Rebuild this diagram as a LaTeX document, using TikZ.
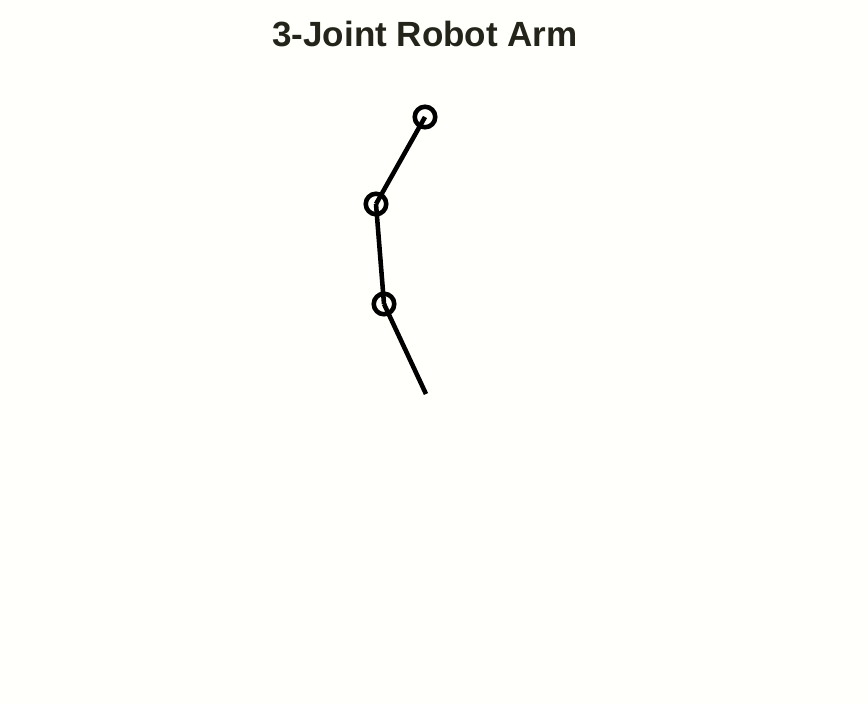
\documentclass[tikz,border=0pt]{standalone}
\usepackage{fontspec}
\setmainfont{Liberation Sans}
\definecolor{paper}{HTML}{FFFFFB}
\definecolor{ink}{HTML}{24241A}
\begin{document}
\begin{tikzpicture}[x=0.03cm, y=-0.03cm]
        \tikzstyle{joint}=[circle, draw, line width=3.9pt, minimum size=17.5pt, inner sep=0pt]
        \tikzstyle{link}=[line width=3.9pt]

        \fill[paper] (0,0) rectangle (868,704);
        \useasboundingbox (0,0) rectangle (868,704);

        \node[text=ink, font=\bfseries\fontsize{29.9}{34}\selectfont] (title) at (425,34) {3-Joint Robot Arm};

        \node[joint] (j1) at (384,304) {};
        \node[joint] (j2) at (376,204) {};
        \node[joint] (j3) at (425,117) {};
        \coordinate (tip) at (426,394);

        \draw[link] (tip) -- (j1.center);
        \draw[link] (j1.center) -- (j2.center);
        \draw[link] (j2.center) -- (j3.center);
    \end{tikzpicture}
\end{document}
